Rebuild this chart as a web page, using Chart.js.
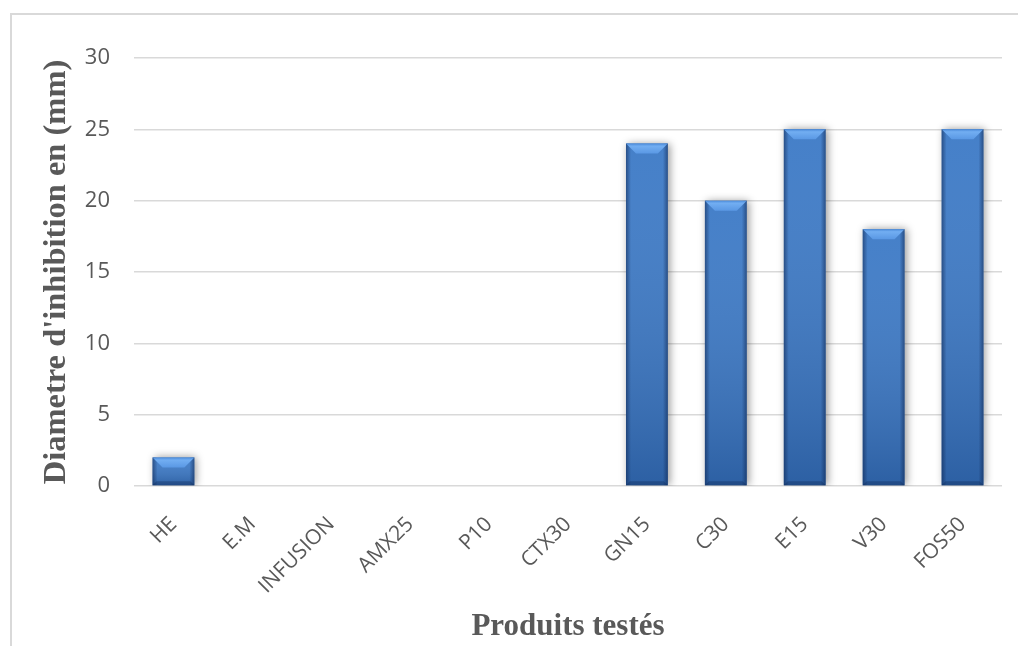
<!DOCTYPE html>
<html>
<head>
<meta charset="utf-8">
<script src="https://cdn.jsdelivr.net/npm/chart.js@4.4.1/dist/chart.umd.min.js"></script>
<style>
  html, body { margin: 0; padding: 0; background: #fff; }
  canvas { display: block; }
</style>
</head>
<body>
<canvas id="chartInhibition" width="1018" height="646"></canvas>
<script>
// Données
var produits = ['HE', 'E.M', 'INFUSION', 'AMX25', 'P10', 'CTX30', 'GN15', 'C30', 'E15', 'V30', 'FOS50'];
var diametres = [2, 0, 0, 0, 0, 0, 24, 20, 25, 18, 25];
var yMin = 0, yMax = 30, yStep = 5;

var gris = '#595959';
var grille = '#d9d9d9';

// cadre gris (haut et gauche)
var cadre = {
  id: 'cadre',
  beforeDraw: function (chart) {
    var ctx = chart.ctx;
    ctx.save();
    ctx.fillStyle = '#fff';
    ctx.fillRect(0, 0, chart.width, chart.height);
    ctx.fillStyle = grille;
    ctx.fillRect(10, 13, 2, chart.height);
    ctx.fillRect(10, 13, chart.width, 2);
    ctx.restore();
  }
};

// effet biseau / ombre des barres
var biseau = {
  id: 'biseau',
  beforeDatasetsDraw: function (chart) {
    var ctx = chart.ctx;
    ctx.save();
    ctx.shadowColor = 'rgba(0,0,0,0.4)';
    ctx.shadowBlur = 8;
    ctx.shadowOffsetX = 2;
  },
  afterDatasetsDraw: function (chart) {
    var ctx = chart.ctx;
    ctx.restore();
    chart.getDatasetMeta(0).data.forEach(function (bar) {
      var p = bar.getProps(['x', 'y', 'base', 'width'], true);
      var h = p.base - p.y;
      if (h < 1) return;
      var l = p.x - p.width / 2, r = p.x + p.width / 2, t = p.y, w = p.width;
      ctx.save();
      var g = ctx.createLinearGradient(0, t, 0, p.base);
      g.addColorStop(0, 'rgba(255,255,255,0.05)');
      g.addColorStop(1, 'rgba(0,20,60,0.25)');
      ctx.fillStyle = g;
      ctx.fillRect(l, t, w, h);
      var e = 5;
      g = ctx.createLinearGradient(l, 0, l + e, 0);
      g.addColorStop(0, 'rgba(10,30,70,0.5)');
      g.addColorStop(1, 'rgba(10,30,70,0)');
      ctx.fillStyle = g;
      ctx.fillRect(l, t, e, h);
      g = ctx.createLinearGradient(r, 0, r - e, 0);
      g.addColorStop(0, 'rgba(10,30,70,0.5)');
      g.addColorStop(1, 'rgba(10,30,70,0)');
      ctx.fillStyle = g;
      ctx.fillRect(r - e, t, e, h);
      var b = Math.min(10, h / 2);
      g = ctx.createLinearGradient(0, t, 0, t + b);
      g.addColorStop(0, '#4a8ad9');
      g.addColorStop(0.25, '#72aef2');
      g.addColorStop(1, '#5a98e4');
      ctx.fillStyle = g;
      ctx.beginPath();
      ctx.moveTo(l, t);
      ctx.lineTo(r, t);
      ctx.lineTo(r - b, t + b);
      ctx.lineTo(l + b, t + b);
      ctx.closePath();
      ctx.fill();
      var bb = Math.min(4, h / 4);
      ctx.fillStyle = 'rgba(10,30,70,0.3)';
      ctx.beginPath();
      ctx.moveTo(l, p.base);
      ctx.lineTo(r, p.base);
      ctx.lineTo(r - bb, p.base - bb);
      ctx.lineTo(l + bb, p.base - bb);
      ctx.closePath();
      ctx.fill();
      ctx.restore();
    });
  }
};

var ctx = document.getElementById('chartInhibition').getContext('2d');
var monGraphique = new Chart(ctx, {
  type: 'bar',
  data: {
    labels: produits,
    datasets: [{
      data: diametres,
      backgroundColor: '#3b79c6',
      borderWidth: 0,
      categoryPercentage: 1,
      barPercentage: 0.53
    }]
  },
  options: {
    responsive: false,
    animation: false,
    devicePixelRatio: 1,
    layout: { padding: { top: 58, right: 16, left: 0, bottom: 0 } },
    plugins: {
      legend: { display: false },
      tooltip: { enabled: false }
    },
    scales: {
      x: {
        grid: { display: false },
        border: { display: false },
        ticks: {
          autoSkip: false,
          minRotation: 45,
          maxRotation: 45,
          padding: 18,
          color: gris,
          font: { family: 'Open Sans', size: 21 }
        },
        title: {
          display: true,
          text: 'Produits testés',
          color: gris,
          padding: { top: 0, bottom: 0 },
          font: { family: 'Liberation Serif', size: 31, weight: 'bold' }
        },
        afterFit: function (scale) { scale.height = 160; }
      },
      y: {
        min: yMin,
        max: yMax,
        border: { display: false },
        grid: { color: grille, lineWidth: 1.5, drawTicks: false },
        ticks: {
          stepSize: yStep,
          padding: 24,
          color: gris,
          font: { family: 'Open Sans', size: 22 }
        },
        title: {
          display: true,
          text: "Diametre d'inhibition en (mm)",
          color: gris,
          padding: { top: 37, bottom: 0 },
          font: { family: 'Liberation Serif', size: 32.5, weight: 'bold' }
        },
        afterFit: function (scale) { scale.width = 134; }
      }
    }
  },
  plugins: [cadre, biseau]
});
</script>
</body>
</html>
